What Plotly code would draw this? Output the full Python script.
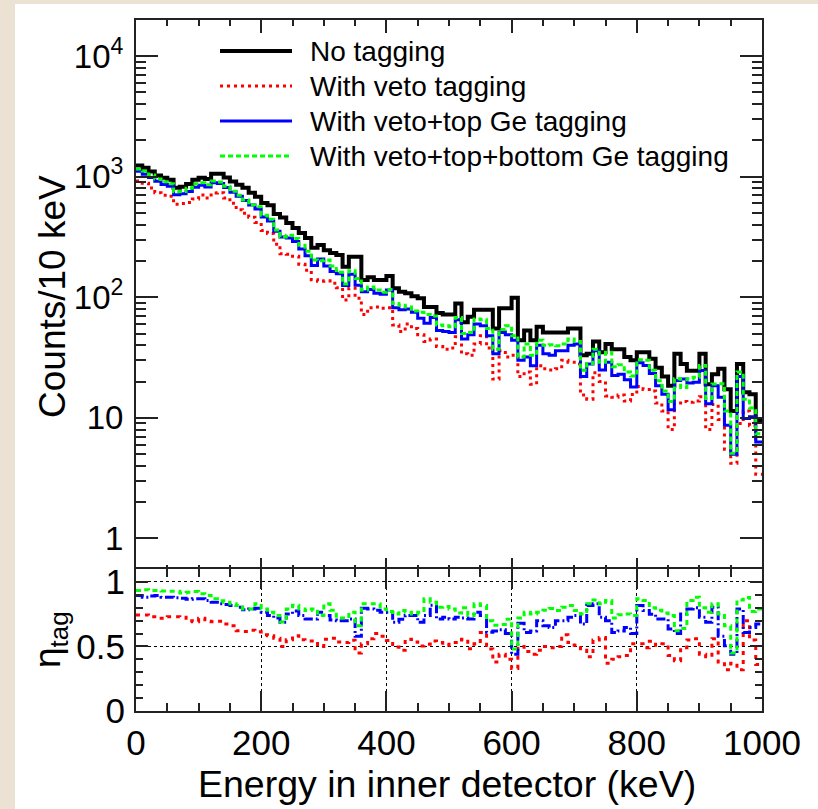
import plotly.graph_objects as go

# ---------------- data ----------------
bin_low_keV = list(range(0, 1000, 10))   # 10 keV bins, 0..1000 keV
bin_high_last = 1000

counts_no_tag = [1242, 1189, 1107, 1025, 979, 944, 809, 825, 871, 944,
                 980, 960, 1059, 1059, 987, 912, 858, 809, 736, 681,
                 606, 580, 490, 460, 414, 376, 341, 310, 258, 272,
                 246, 233, 224, 179, 217, 217, 139, 147, 139, 139,
                 150, 119, 111, 108, 102, 98, 83, 83, 74, 72,
                 72, 89, 62, 69, 79, 79, 79, 55, 81, 81,
                 99, 44, 53, 44, 57, 51, 51, 51, 51, 55,
                 55, 33, 34, 43, 35, 41, 37, 37, 32, 30,
                 35, 35, 31, 26, 22, 18.5, 34, 28, 24.6, 24.6,
                 34, 19, 23, 25.5, 17.3, 11.4, 28, 16.3, 15.7, 9.4]

counts_veto = [924, 885, 808, 736, 703, 689, 591, 599, 610, 653,
               704, 667, 733, 736, 665, 602, 533, 498, 461, 417,
               358, 338, 276, 230, 228, 219, 188, 168, 140, 136,
               137, 131, 120, 95, 119, 98, 72, 82, 83, 81,
               82, 59, 52, 60, 55, 49, 43, 45, 39, 37,
               38, 47, 34, 33, 41, 48, 38, 21, 36, 32,
               33, 22, 24, 19, 27, 25.5, 25, 25.5, 30, 29,
               28, 15.5, 14.3, 23.7, 20, 15.2, 14.8, 15.5, 13.8, 15.6,
               18.2, 17.2, 16.7, 13.3, 11.4, 8.0, 13.3, 13.7, 13.5, 13.8,
               15, 8.0, 12.9, 9.7, 5.5, 4.2, 9.0, 11.4, 8.6, 3.4]

counts_veto_top = [1112, 1049, 985, 917, 863, 833, 710, 721, 753, 820,
                   852, 822, 893, 879, 814, 745, 690, 635, 582, 541,
                   464, 429, 353, 316, 311, 291, 252, 221, 184, 208,
                   182, 164, 157, 125, 155, 126, 111, 116, 108, 106,
                   115, 82, 79, 80, 75, 67, 61, 68, 53, 52,
                   51, 65, 45, 49, 60, 58, 48, 34, 51, 49,
                   44, 30, 32, 27, 40, 34, 33, 36, 36, 40,
                   41, 22, 28, 36, 25, 29, 22.5, 23, 20.7, 18,
                   28.6, 27.2, 23.3, 18.5, 15.7, 11.7, 20.4, 21, 19.5, 19.7,
                   24.7, 13.1, 18.5, 14.8, 8.7, 5.0, 22, 9.9, 10.2, 6.3]

counts_veto_top_bottom = [1160, 1118, 1034, 957, 910, 876, 751, 755, 801, 873,
                          890, 859, 920, 905, 832, 757, 701, 640, 582, 565,
                          479, 444, 362, 317, 327, 308, 270, 241, 204, 201,
                          204, 182, 161, 129, 166, 143, 115, 122, 115, 110,
                          116, 89, 86, 83, 77, 75, 72, 70, 59, 58,
                          57, 68, 50, 51, 66, 65, 55, 37, 54, 58,
                          48, 32, 41, 33, 44, 40, 40.5, 39.7, 41, 45,
                          43, 24.8, 28.2, 37, 29, 35, 26.6, 27.6, 24, 22.2,
                          30.4, 30, 24.8, 20.3, 16.7, 13.7, 21.1, 17.9, 21.1, 21.7,
                          27.2, 14.5, 19.1, 19.2, 11.4, 5.1, 24, 14.3, 12.1, 7.4]

eta_veto = [0.744, 0.744, 0.73, 0.718, 0.718, 0.73, 0.73, 0.726, 0.70, 0.692,
            0.718, 0.695, 0.692, 0.695, 0.674, 0.66, 0.621, 0.616, 0.626, 0.613,
            0.59, 0.582, 0.564, 0.50, 0.551, 0.582, 0.551, 0.543, 0.543, 0.50,
            0.556, 0.564, 0.535, 0.53, 0.548, 0.45, 0.52, 0.56, 0.60, 0.58,
            0.547, 0.495, 0.47, 0.556, 0.535, 0.504, 0.517, 0.543, 0.53, 0.51,
            0.53, 0.53, 0.556, 0.483, 0.52, 0.608, 0.48, 0.38, 0.44, 0.40,
            0.33, 0.50, 0.46, 0.44, 0.47, 0.50, 0.49, 0.50, 0.59, 0.53,
            0.51, 0.47, 0.42, 0.55, 0.57, 0.37, 0.40, 0.42, 0.43, 0.52,
            0.52, 0.49, 0.54, 0.51, 0.52, 0.43, 0.39, 0.49, 0.55, 0.56,
            0.44, 0.42, 0.56, 0.38, 0.32, 0.37, 0.32, 0.70, 0.55, 0.36]

eta_veto_top = [0.895, 0.882, 0.89, 0.895, 0.882, 0.882, 0.878, 0.874, 0.865, 0.869,
                0.869, 0.856, 0.843, 0.83, 0.825, 0.817, 0.804, 0.785, 0.791, 0.795,
                0.765, 0.739, 0.72, 0.687, 0.752, 0.775, 0.74, 0.713, 0.713, 0.765,
                0.74, 0.705, 0.70, 0.70, 0.713, 0.58, 0.795, 0.791, 0.78, 0.765,
                0.765, 0.687, 0.71, 0.739, 0.739, 0.687, 0.739, 0.82, 0.713, 0.726,
                0.713, 0.726, 0.72, 0.713, 0.765, 0.739, 0.61, 0.62, 0.63, 0.60,
                0.44, 0.68, 0.608, 0.62, 0.70, 0.66, 0.647, 0.70, 0.70, 0.726,
                0.739, 0.673, 0.817, 0.83, 0.726, 0.70, 0.608, 0.62, 0.647, 0.60,
                0.817, 0.778, 0.75, 0.713, 0.713, 0.635, 0.60, 0.752, 0.791, 0.80,
                0.726, 0.687, 0.804, 0.58, 0.505, 0.44, 0.79, 0.608, 0.647, 0.673]

eta_veto_top_bottom = [0.934, 0.94, 0.934, 0.934, 0.93, 0.928, 0.928, 0.915, 0.92, 0.925,
                       0.908, 0.895, 0.869, 0.855, 0.843, 0.83, 0.817, 0.791, 0.791, 0.83,
                       0.791, 0.765, 0.739, 0.69, 0.79, 0.82, 0.791, 0.778, 0.791, 0.74,
                       0.83, 0.78, 0.72, 0.72, 0.765, 0.66, 0.83, 0.83, 0.83, 0.791,
                       0.77, 0.752, 0.778, 0.765, 0.752, 0.765, 0.869, 0.843, 0.804, 0.81,
                       0.79, 0.76, 0.80, 0.74, 0.83, 0.817, 0.70, 0.665, 0.67, 0.71,
                       0.48, 0.72, 0.765, 0.752, 0.765, 0.78, 0.794, 0.778, 0.804, 0.817,
                       0.778, 0.752, 0.83, 0.86, 0.83, 0.856, 0.72, 0.745, 0.752, 0.74,
                       0.869, 0.856, 0.80, 0.78, 0.76, 0.739, 0.622, 0.64, 0.856, 0.882,
                       0.80, 0.765, 0.83, 0.752, 0.66, 0.45, 0.86, 0.88, 0.77, 0.79]

series_names = ["No tagging", "With veto tagging",
                "With veto+top Ge tagging", "With veto+top+bottom Ge tagging"]
top_ticks = [1, 10, 100, 1000, 10000]
top_tick_text = ["1", "10", "10<sup>2</sup>", "10<sup>3</sup>", "10<sup>4</sup>"]
top_minor_ticks = [m * d for d in (1, 10, 100, 1000) for m in range(2, 10)] + [20000]

# ---------------- styling ----------------
W, H = 818, 809
ML, MR, MT, MB = 136, 56, 20, 98
PW, PH = W - ML - MR, H - MT - MB
FONT = "Liberation Sans, Arial, Helvetica, sans-serif"
AXC = "#222222"


def px_x(px):
    return (px - ML) / PW


def px_y(py):
    return (H - MB - py) / PH


def steps(vals):
    return bin_low_keV + [bin_high_last], list(vals) + [vals[-1]]


fig = go.Figure()

top_styles = [
    (counts_no_tag, "black", 4, "solid"),
    (counts_veto, "#ff0000", 3, "3px,4px"),
    (counts_veto_top, "#0000ff", 3, "solid"),
    (counts_veto_top_bottom, "#00ff00", 3, "5px,3px"),
]
for (vals, col, w, dash), name in zip(top_styles, series_names):
    xs, ys = steps(vals)
    fig.add_trace(go.Scatter(x=xs, y=ys, mode="lines", line_shape="hv",
                             line=dict(color=col, width=w, dash=dash),
                             name=name, showlegend=False,
                             xaxis="x", yaxis="y"))

low_styles = [
    (eta_veto, "#ff0000", 3, "4px,5px", series_names[1]),
    (eta_veto_top, "#0000ff", 3, "9px,3px,2px,3px", series_names[2]),
    (eta_veto_top_bottom, "#00ff00", 3, "5px,4px", series_names[3]),
]
for vals, col, w, dash, name in low_styles:
    xs, ys = steps(vals)
    fig.add_trace(go.Scatter(x=xs, y=ys, mode="lines", line_shape="hv",
                             line=dict(color=col, width=w, dash=dash),
                             name=name, showlegend=False,
                             xaxis="x2", yaxis="y2"))

split_top = (H - MB - 571) / PH   # top panel's frame line sits just below this
split_low = (H - MB - 569) / PH   # lower panel's frame line sits just above this

common_axis = dict(showline=True, linecolor=AXC, linewidth=2, mirror="allticks",
                   ticks="inside", tickcolor=AXC, tickwidth=2, zeroline=False)

fig.update_layout(
    width=W, height=H, autosize=False,
    margin=dict(l=ML, r=MR, t=MT, b=MB, pad=0),
    paper_bgcolor="#ebe2d4", plot_bgcolor="white",
    font=dict(family=FONT, color="black"),
    showlegend=False,
    xaxis=dict(domain=[0, 1], anchor="y", range=[0, 1000],
               tickvals=[0, 200, 400, 600, 800, 1000],
               showticklabels=False, ticklen=13, showgrid=False,
               minor=dict(ticks="inside", ticklen=6, tickvals=list(range(50, 1000, 50)),
                          tickcolor=AXC, tickwidth=2, showgrid=False),
               **common_axis),
    yaxis=dict(domain=[split_top, 1], anchor="x", type="log", range=[-0.27, 4.30],
               tickvals=top_ticks, ticktext=top_tick_text, ticklen=22,
               tickfont=dict(size=33), showgrid=False, ticklabelstandoff=4,
               minor=dict(ticks="inside", ticklen=10, tickvals=top_minor_ticks,
                          tickcolor=AXC, tickwidth=2, showgrid=False),
               **common_axis),
    xaxis2=dict(domain=[0, 1], anchor="y2", range=[0, 1000], matches="x",
                tickvals=[0, 200, 400, 600, 800, 1000], ticklen=20,
                tickfont=dict(size=35),
                showgrid=True, gridcolor="black", gridwidth=1.3, griddash="dot",
                minor=dict(ticks="inside", ticklen=8, tickvals=list(range(50, 1000, 50)),
                           tickcolor=AXC, tickwidth=2, showgrid=False),
                **common_axis),
    yaxis2=dict(domain=[0, split_low], anchor="x2", range=[0, 1.1],
                tickvals=[0, 0.5, 1], ticktext=["0", "0.5", "1"], ticklen=12,
                tickfont=dict(size=35), ticklabelstandoff=2,
                showgrid=True, gridcolor="black", gridwidth=1.3, griddash="dot",
                minor=dict(ticks="inside", ticklen=7,
                           tickvals=[0.1, 0.2, 0.3, 0.4, 0.6, 0.7, 0.8, 0.9, 1.1],
                           tickcolor=AXC, tickwidth=2, showgrid=False),
                **common_axis),
)

# page background: white sheet over a beige frame
fig.add_shape(type="rect", xref="paper", yref="paper", layer="below",
              x0=px_x(15), x1=px_x(W + 5), y0=px_y(H + 5), y1=px_y(4),
              fillcolor="white", line=dict(width=0))

# legend drawn by hand (ROOT-style long samples)
legend_rows = [51, 86, 121, 156]
legend_styles = [("black", 4, "solid"), ("#ff0000", 3, "3px,4px"),
                 ("#0000ff", 3, "solid"), ("#00ff00", 3, "5px,3px")]
for py, (col, w, dash), name in zip(legend_rows, legend_styles, series_names):
    fig.add_shape(type="line", xref="paper", yref="paper",
                  x0=px_x(220), x1=px_x(292), y0=px_y(py), y1=px_y(py),
                  line=dict(color=col, width=w, dash=dash))
    fig.add_annotation(xref="paper", yref="paper", x=px_x(308), y=px_y(py),
                       text=name, showarrow=False, xanchor="left", yanchor="middle",
                       font=dict(size=28, family=FONT, color="black"))

# axis titles
fig.add_annotation(xref="paper", yref="paper", x=px_x(52), y=px_y(297),
                   text="Counts/10 keV", textangle=-90, showarrow=False,
                   xanchor="center", yanchor="middle",
                   font=dict(size=37, family=FONT, color="black"))
fig.add_annotation(xref="paper", yref="paper", x=px_x(50), y=px_y(640),
                   text="η<sub>tag</sub>", textangle=-90, showarrow=False,
                   xanchor="center", yanchor="middle",
                   font=dict(size=37, family=FONT, color="black"))
fig.add_annotation(xref="paper", yref="paper", x=px_x(698), y=px_y(784),
                   text="Energy in inner detector (keV)", showarrow=False,
                   xanchor="right", yanchor="middle",
                   font=dict(size=37.5, family=FONT, color="black"))

fig.write_html("out.html",
               config={"displayModeBar": False},
               post_script="document.body.style.margin='0px';"
                           "document.body.style.overflow='hidden';")
